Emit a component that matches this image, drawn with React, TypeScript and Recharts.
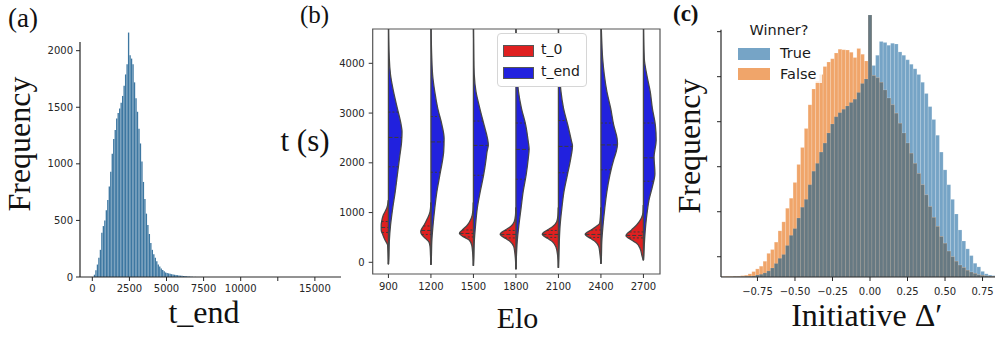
import React from 'react';
import { BarChart, Bar, ComposedChart, Area, XAxis, YAxis, ReferenceLine, ReferenceArea } from 'recharts';

// (a) histogram of t_end, 100 s bins (bin centres)
const tEndBins = [
  50, 150, 250, 350, 450, 550, 650, 750, 850, 950,
  1050, 1150, 1250, 1350, 1450, 1550, 1650, 1750, 1850, 1950,
  2050, 2150, 2250, 2350, 2450, 2550, 2650, 2750, 2850, 2950,
  3050, 3150, 3250, 3350, 3450, 3550, 3650, 3750, 3850, 3950,
  4050, 4150, 4250, 4350, 4450, 4550, 4650, 4750, 4850, 4950,
  5050, 5150, 5250, 5350, 5450, 5550, 5650, 5750, 5850, 5950,
  6050, 6150, 6250, 6350, 6450, 6550, 6650, 6750, 6850, 6950,
];
const tEndCounts = [
  0, 20, 60, 110, 170, 240, 390, 450, 500, 590,
  680, 800, 930, 1090, 1220, 1300, 1400, 1450, 1490, 1540,
  1600, 1690, 1790, 1880, 2160, 1960, 1930, 1880, 1720, 1580,
  1460, 1310, 1180, 1020, 840, 690, 560, 460, 380, 300,
  240, 200, 170, 140, 110, 92, 75, 62, 50, 40,
  36, 32, 28, 25, 22, 20, 18, 16, 14, 12,
  10, 9, 8, 6, 5, 4, 3, 2, 1, 1,
];
const tEndTicks = [0, 2500, 5000, 7500, 10000, 12500, 15000];
const freqTicksA = [0, 500, 1000, 1500, 2000];

// (b) split violins: [t, half width in 1/100 of a category]
const eloLevels = [900, 1200, 1500, 1800, 2100, 2400, 2700];
const t0Shapes = [
  [[-40, 0], [214, 1], [348, 2], [449, 8], [549, 13], [650, 17], [750, 17], [817, 16], [951, 12], [1085, 4], [1250, 0]],
  [[-50, 0], [150, 1], [315, 2], [415, 5], [482, 13], [549, 21], [616, 24], [683, 21], [750, 16], [884, 8], [1018, 2], [1200, 0]],
  [[-70, 0], [214, 2], [348, 4], [449, 10], [516, 24], [582, 33], [650, 26], [750, 14], [884, 5], [1050, 1], [1200, 0]],
  [[-140, 0], [147, 2], [315, 5], [415, 13], [482, 25], [563, 37], [650, 25], [717, 13], [817, 4], [950, 1], [1100, 0]],
  [[-110, 0], [147, 2], [315, 6], [415, 14], [482, 26], [563, 38], [650, 26], [717, 14], [817, 4], [950, 1], [1100, 0]],
  [[-30, 0], [147, 2], [315, 5], [415, 13], [482, 25], [563, 37], [650, 23], [717, 12], [784, 3], [950, 1], [1100, 0]],
  [[40, 0], [120, 3], [281, 8], [382, 16], [449, 28], [536, 41], [650, 28], [750, 16], [884, 5], [1000, 1], [1150, 0]],
];
const tEndShapes = [
  [[-40, 0], [80, 1], [415, 2], [750, 5], [1085, 10], [1420, 16], [1755, 21], [2090, 26], [2425, 31], [2626, 32], [2760, 30], [3095, 21], [3430, 12], [3765, 5], [4100, 2], [5000, 0]],
  [[-50, 0], [100, 1], [415, 2], [750, 5], [1085, 9], [1420, 14], [1755, 21], [2090, 28], [2224, 30], [2492, 31], [2760, 26], [3095, 16], [3430, 9], [3765, 4], [4100, 2], [5000, 0]],
  [[-70, 0], [100, 1], [415, 2], [750, 5], [1085, 9], [1420, 16], [1755, 24], [2090, 30], [2224, 32], [2358, 35], [2492, 33], [2760, 25], [3095, 15], [3430, 6], [3765, 2], [4100, 1], [5000, 0]],
  [[-140, 0], [100, 1], [415, 3], [750, 7], [1085, 12], [1420, 17], [1755, 24], [2090, 29], [2278, 31], [2425, 29], [2760, 23], [3095, 13], [3430, 6], [3765, 3], [4100, 1], [5000, 0]],
  [[-110, 0], [100, 1], [415, 2], [750, 4], [1085, 8], [1420, 13], [1755, 21], [2090, 29], [2345, 33], [2425, 31], [2760, 22], [3095, 12], [3430, 6], [3765, 3], [4100, 1], [5000, 0]],
  [[-30, 0], [100, 1], [415, 2], [750, 5], [1085, 9], [1420, 14], [1755, 21], [2090, 31], [2224, 36], [2378, 39], [2492, 38], [2760, 30], [3095, 23], [3430, 14], [3765, 8], [4100, 4], [4435, 2], [5000, 0]],
  [[40, 0], [150, 1], [348, 2], [616, 4], [884, 7], [1085, 10], [1250, 13], [1518, 21], [1786, 27], [2120, 25], [2455, 30], [2760, 28], [3095, 21], [3430, 16], [3765, 8], [4100, 2], [5000, 0]],
];
const t0Quartiles = [
  [600, 700, 820], [560, 640, 730], [510, 580, 650], [490, 560, 640],
  [500, 560, 640], [500, 560, 650], [490, 540, 610],
];
const tEndQuartiles = [
  [1920, 2510, 3020], [1810, 2420, 2930], [1750, 2350, 2840], [1670, 2270, 2800],
  [1800, 2330, 2850], [1860, 2360, 2800], [1630, 2100, 2800],
];
const timeTicks = [0, 1000, 2000, 3000, 4000];

// (c) Initiative Δ' histograms, 0.025 bins (bin centres)
const initiativeBins = [
  -0.975, -0.95, -0.925, -0.9, -0.875, -0.85, -0.825, -0.8, -0.775, -0.75,
  -0.725, -0.7, -0.675, -0.65, -0.625, -0.6, -0.575, -0.55, -0.525, -0.5,
  -0.475, -0.45, -0.425, -0.4, -0.375, -0.35, -0.325, -0.3, -0.275, -0.25,
  -0.225, -0.2, -0.175, -0.15, -0.125, -0.1, -0.075, -0.05, -0.025, 0,
  0.025, 0.05, 0.075, 0.1, 0.125, 0.15, 0.175, 0.2, 0.225, 0.25,
  0.275, 0.3, 0.325, 0.35, 0.375, 0.4, 0.425, 0.45, 0.475, 0.5,
  0.525, 0.55, 0.575, 0.6, 0.625, 0.65, 0.675, 0.7, 0.725, 0.75,
  0.775, 0.8, 0.825, 0.85, 0.875, 0.9, 0.925, 0.95, 0.975,
];
const winnerCounts = [
  1, 1, 1, 2, 2, 2, 3, 3, 4, 9,
  12, 18, 27, 40, 60, 83, 100, 140, 185, 215,
  262, 310, 345, 410, 470, 505, 555, 595, 640, 680,
  712, 730, 745, 760, 775, 790, 820, 860, 880, 1164,
  940, 985, 1046, 1042, 1030, 1038, 1035, 1000, 985, 965,
  945, 925, 900, 865, 815, 757, 700, 630, 555, 476,
  410, 345, 280, 209, 160, 125, 95, 61, 45, 25,
  14, 9, 6, 4, 3, 2, 1, 1, 1,
];
const loserCounts = [
  2, 3, 3, 4, 4, 6, 8, 14, 24, 36,
  48, 70, 105, 122, 155, 205, 245, 305, 350, 420,
  500, 575, 660, 765, 835, 870, 900, 935, 955, 970,
  995, 1012, 1010, 1008, 998, 975, 1015, 990, 960, 1164,
  895, 885, 865, 831, 795, 765, 728, 683, 640, 595,
  550, 505, 460, 410, 365, 313, 265, 225, 180, 150,
  115, 90, 70, 53, 42, 30, 22, 16, 10, 7,
  5, 4, 3, 2, 2, 1, 1, 1, 0,
];
const initiativeTicks = [-0.75, -0.5, -0.25, 0, 0.25, 0.5, 0.75];
const freqTicksC = [90, 290, 490, 690, 890, 1090];

const RED = '#df2020';
const BLUE = '#2121de';
const HIST_BLUE = '#3d77a1';
const TRUE_COLOR = '#76a4c6';
const FALSE_COLOR = '#f0a56a';
const BOTH_COLOR = '#677982';
const tickStyle = { fontSize: 10, fill: '#262626', fontFamily: 'DejaVu Sans' };
const serif = '"Liberation Serif", serif';

const histData = tEndBins.map((t, i) => ({ t, n: tEndCounts[i] }));
const initData = initiativeBins.map((v, i) => ({
  v,
  win: winnerCounts[i],
  lose: loserCounts[i],
  both: Math.min(winnerCounts[i], loserCounts[i]),
}));

const widthAt = (shape: number[][], t: number) => {
  for (let k = 1; k < shape.length; k++) {
    const [ta, wa] = shape[k - 1];
    const [tb, wb] = shape[k];
    if (t >= ta && t <= tb) return (wa + ((wb - wa) * (t - ta)) / (tb - ta)) / 100;
  }
  return 0;
};

const fmtInit = (v: number) => (v < 0 ? '\u2212' : '') + Math.abs(v).toFixed(2);

const PanelA = () => (
  <BarChart width={360} height={340} data={histData} margin={{ top: 32, right: 19, bottom: 33, left: 20 }}>
    <XAxis
      type="number"
      dataKey="t"
      domain={[-830, 16760]}
      allowDataOverflow
      ticks={tEndTicks}
      interval={0}
      tickFormatter={(v) => (v === 12500 ? '' : String(v))}
      tick={tickStyle}
      tickSize={4}
      tickMargin={4}
      stroke="#262626"
      height={30}
    />
    <YAxis
      type="number"
      domain={[0, 2165]}
      allowDataOverflow
      ticks={freqTicksA}
      interval={0}
      axisLine={false}
      tick={tickStyle}
      tickSize={4}
      tickMargin={3}
      stroke="#262626"
      width={60}
    />
    <ReferenceLine
      segment={[{ x: -830, y: 0 }, { x: -830, y: 2076 }]}
      stroke="#262626"
      strokeWidth={1.2}
      ifOverflow="visible"
    />
    <Bar dataKey="n" fill={HIST_BLUE} barSize={1.6} isAnimationActive={false} />
  </BarChart>
);

const PanelB = () => (
  <ComposedChart layout="vertical" width={360} height={340} margin={{ top: 29, right: 12, bottom: 36, left: 10.7 }}>
    <XAxis
      type="number"
      domain={[-0.37, 6.39]}
      allowDataOverflow
      ticks={[0, 1, 2, 3, 4, 5, 6]}
      interval={0}
      tickFormatter={(i) => String(eloLevels[i])}
      axisLine={false}
      tick={tickStyle}
      tickSize={4}
      tickMargin={5}
      stroke="#333"
      height={30}
    />
    <YAxis
      type="number"
      dataKey="t"
      domain={[-235, 4690]}
      allowDataOverflow
      reversed
      ticks={timeTicks}
      interval={0}
      axisLine={false}
      tick={tickStyle}
      tickSize={4}
      tickMargin={4}
      stroke="#333"
      width={50}
    />
    <ReferenceArea x1={-0.37} x2={6.39} y1={-235} y2={4690} fill="none" stroke="#555" strokeWidth={1.2} ifOverflow="visible" />
    {eloLevels.map((elo, i) => (
      <Area
        key={'e' + elo}
        data={tEndShapes[i].map(([t, w]) => ({ t, lo: i, hi: i + w / 100 }))}
        dataKey={(d: any) => [d.lo, d.hi]}
        type="monotone"
        fill={BLUE}
        fillOpacity={1}
        stroke="#474747"
        strokeWidth={1.3}
        isAnimationActive={false}
      />
    ))}
    {eloLevels.map((elo, i) => (
      <Area
        key={'s' + elo}
        data={t0Shapes[i].map(([t, w]) => ({ t, lo: i - w / 100, hi: i }))}
        dataKey={(d: any) => [d.lo, d.hi]}
        type="monotone"
        fill={RED}
        fillOpacity={1}
        stroke="#474747"
        strokeWidth={1.3}
        isAnimationActive={false}
      />
    ))}
    {eloLevels.map((elo, i) =>
      tEndQuartiles[i].map((q, k) => (
        <ReferenceLine
          key={`qe${elo}-${k}`}
          segment={[{ x: i, y: q }, { x: i + widthAt(tEndShapes[i], q), y: q }]}
          stroke="#3c3c3c"
          strokeWidth={1}
          strokeDasharray={k === 1 ? '4 2' : '2 2'}
        />
      ))
    )}
    {eloLevels.map((elo, i) =>
      t0Quartiles[i].map((q, k) => (
        <ReferenceLine
          key={`qs${elo}-${k}`}
          segment={[{ x: i - widthAt(t0Shapes[i], q), y: q }, { x: i, y: q }]}
          stroke="#3c3c3c"
          strokeWidth={1}
          strokeDasharray={k === 1 ? '4 2' : '2 2'}
        />
      ))
    )}
  </ComposedChart>
);

const PanelC = () => (
  <BarChart width={370} height={340} data={initData} margin={{ top: 15, right: 11, bottom: 33, left: 21 }}>
    <XAxis
      xAxisId="win"
      type="number"
      dataKey="v"
      domain={[-0.993, 0.993]}
      allowDataOverflow
      ticks={initiativeTicks}
      interval={0}
      tickFormatter={fmtInit}
      tick={tickStyle}
      tickSize={4}
      tickMargin={7}
      stroke="#262626"
      height={30}
    />
    <XAxis xAxisId="lose" type="number" dataKey="v" domain={[-0.993, 0.993]} allowDataOverflow hide height={0} />
    <XAxis xAxisId="both" type="number" dataKey="v" domain={[-0.993, 0.993]} allowDataOverflow hide height={0} />
    <YAxis
      type="number"
      domain={[0, 1164]}
      allowDataOverflow
      ticks={freqTicksC}
      interval={0}
      tickFormatter={() => ''}
      tick={tickStyle}
      axisLine={false}
      tickSize={4}
      stroke="#262626"
      width={40}
    />
    <ReferenceLine
      xAxisId="win"
      segment={[{ x: -0.993, y: 0 }, { x: -0.993, y: 1098 }]}
      stroke="#262626"
      strokeWidth={1.2}
      ifOverflow="visible"
    />
    <Bar xAxisId="win" dataKey="win" fill={TRUE_COLOR} stroke="#ffffff" strokeOpacity={0.3} strokeWidth={0.5} barSize={3.75} isAnimationActive={false} />
    <Bar xAxisId="lose" dataKey="lose" fill={FALSE_COLOR} stroke="#ffffff" strokeOpacity={0.3} strokeWidth={0.5} barSize={3.75} isAnimationActive={false} />
    <Bar xAxisId="both" dataKey="both" fill={BOTH_COLOR} stroke="#ffffff" strokeOpacity={0.2} strokeWidth={0.5} barSize={3.75} isAnimationActive={false} />
  </BarChart>
);

const patch = (left: number, top: number, color: string, border: string): React.CSSProperties => ({
  position: 'absolute', left, top, width: 29, height: 10, background: color, border: `1px solid ${border}`,
});

export default function App() {
  return (
    <div style={{ position: 'fixed', left: 0, top: 0, width: 995, height: 340, overflow: 'hidden', background: '#fff' }}>
      <div style={{ position: 'absolute', left: 0, top: 0 }}><PanelA /></div>
      <div style={{ position: 'absolute', left: 312, top: 0 }}><PanelB /></div>
      <div style={{ position: 'absolute', left: 660, top: 0 }}><PanelC /></div>

      {/* legend (b) */}
      <div style={{ position: 'absolute', left: 497, top: 33, width: 88, height: 52, background: '#fff', border: '1px solid #d6d6d6', borderRadius: 4, fontFamily: 'DejaVu Sans', fontSize: 14, color: '#1a1a1a' }}>
        <div style={patch(5, 11, RED, '#555')} />
        <div style={{ position: 'absolute', left: 43, top: 6, lineHeight: '18px' }}>t_0</div>
        <div style={patch(5, 33, BLUE, '#555')} />
        <div style={{ position: 'absolute', left: 43, top: 28, lineHeight: '18px' }}>t_end</div>
      </div>

      {/* legend (c) */}
      <div style={{ position: 'absolute', left: 736, top: 20, width: 86, height: 63, background: 'rgba(255,255,255,0.8)', fontFamily: 'DejaVu Sans', fontSize: 14.5, color: '#1a1a1a' }}>
        <div style={{ position: 'absolute', left: 0, width: 86, top: 1, textAlign: 'center', lineHeight: '18px' }}>Winner?</div>
        <div style={{ position: 'absolute', left: 2, top: 28, width: 32, height: 12, background: TRUE_COLOR }} />
        <div style={{ position: 'absolute', left: 44, top: 24, lineHeight: '18px' }}>True</div>
        <div style={{ position: 'absolute', left: 2, top: 48, width: 32, height: 12, background: FALSE_COLOR }} />
        <div style={{ position: 'absolute', left: 44, top: 45, lineHeight: '18px' }}>False</div>
      </div>

      <svg width={995} height={340} style={{ position: 'absolute', left: 0, top: 0, pointerEvents: 'none' }}>
        <g fontFamily={serif} fill="#111">
          <text x={8} y={27} fontSize={27}>(a)</text>
          <text x={300} y={23} fontSize={25}>(b)</text>
          <text x={673} y={21} fontSize={23} fontWeight="bold">(c)</text>
          <text transform="translate(29.5,144) rotate(-90)" textAnchor="middle" fontSize={32}>Frequency</text>
          <text x={204} y={323} textAnchor="middle" fontSize={32}>t_end</text>
          <text x={305} y={151} textAnchor="middle" fontSize={31}>t (s)</text>
          <text x={517.5} y={328} textAnchor="middle" fontSize={30}>Elo</text>
          <text transform="translate(699.5,146) rotate(-90)" textAnchor="middle" fontSize={32}>Frequency</text>
          <text x={866.7} y={326} textAnchor="middle" fontSize={32}>Initiative Δ′</text>
        </g>
      </svg>
    </div>
  );
}
